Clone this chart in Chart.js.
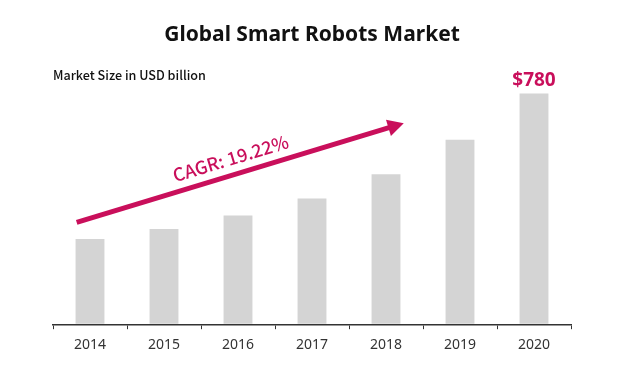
<!DOCTYPE html>
<html>
<head>
<meta charset="utf-8">
<script src="https://cdn.jsdelivr.net/npm/chart.js@4"></script>
<style>
  html, body { margin: 0; padding: 0; background: #fff; }
  #wrap { width: 625px; height: 372px; }
</style>
</head>
<body>
<div id="wrap"><canvas id="chart"></canvas></div>
<script>
// Global Smart Robots Market — bars + CAGR arrow

const YEARS = ["2014", "2015", "2016", "2017", "2018", "2019", "2020"];
const MARKET_SIZE = [287, 321, 367, 424, 506, 623, 780];
const LAST_LABEL = "$780";
const CAGR_TEXT = "CAGR: 19.22%";
// arrow ends in data space: [category index, value]
const ARROW_FROM = [-0.18, 343];
const ARROW_TO = [4.24, 679];
const CAGR_AT = [1.9, 560];

const ACCENT = "#c90f5b";
const FONT = "'Noto Sans', sans-serif";
const FONT_KR = "'Noto Sans CJK KR', 'Noto Sans', sans-serif";

// ============== annotation plugin: arrow, CAGR label, last value ==============
const annotations = {
  id: "annotations",
  afterDatasetsDraw(chart) {
    const { ctx, scales: { x, y } } = chart;
    const x1 = x.getPixelForValue(ARROW_FROM[0]), y1 = y.getPixelForValue(ARROW_FROM[1]);
    const x2 = x.getPixelForValue(ARROW_TO[0]), y2 = y.getPixelForValue(ARROW_TO[1]);
    const ang = Math.atan2(y2 - y1, x2 - x1);
    const headLen = 16, headHalf = 8.5;

    ctx.save();
    ctx.strokeStyle = ACCENT;
    ctx.fillStyle = ACCENT;
    ctx.lineWidth = 5;
    ctx.beginPath();
    ctx.moveTo(x1, y1);
    ctx.lineTo(x2 - headLen * 0.8 * Math.cos(ang), y2 - headLen * 0.8 * Math.sin(ang));
    ctx.stroke();
    // head
    const bx = x2 - headLen * Math.cos(ang), by = y2 - headLen * Math.sin(ang);
    ctx.beginPath();
    ctx.moveTo(x2, y2);
    ctx.lineTo(bx + headHalf * Math.sin(ang), by - headHalf * Math.cos(ang));
    ctx.lineTo(bx - headHalf * Math.sin(ang), by + headHalf * Math.cos(ang));
    ctx.closePath();
    ctx.fill();

    // CAGR text along the arrow
    const tx = x.getPixelForValue(CAGR_AT[0]), ty = y.getPixelForValue(CAGR_AT[1]);
    ctx.translate(tx, ty);
    ctx.rotate(ang);
    ctx.font = "500 18px " + FONT_KR;
    ctx.textAlign = "center";
    ctx.textBaseline = "middle";
    ctx.fillText(CAGR_TEXT, 0, 0);
    ctx.restore();

    // value above last bar
    const meta = chart.getDatasetMeta(0);
    const last = meta.data[meta.data.length - 1];
    ctx.save();
    ctx.fillStyle = ACCENT;
    ctx.font = "bold 19px " + FONT;
    ctx.textAlign = "center";
    ctx.textBaseline = "alphabetic";
    ctx.fillText(LAST_LABEL, last.x, last.y - 7);
    ctx.restore();
  }
};

new Chart(document.getElementById("chart"), {
  type: "bar",
  data: {
    labels: YEARS,
    datasets: [{
      data: MARKET_SIZE,
      backgroundColor: "#d4d4d4",
      borderWidth: 0,
      categoryPercentage: 1,
      barPercentage: 0.39,
    }]
  },
  options: {
    responsive: true,
    maintainAspectRatio: false,
    animation: false,
    layout: { padding: { left: 53, right: 54, top: 0, bottom: 12 } },
    scales: {
      x: {
        grid: {
          display: true,
          drawOnChartArea: false,
          offset: true,
          tickLength: 4,
          color: "#333",
          lineWidth: 1,
        },
        border: { display: true, color: "#333", width: 1.5 },
        ticks: { color: "#333", font: { family: FONT, size: 14 }, padding: 7 },
      },
      y: {
        display: false,
        min: -5,
        max: 816,
      },
    },
    plugins: {
      legend: { display: false },
      tooltip: { enabled: false },
      title: {
        display: true,
        text: "Global Smart Robots Market",
        color: "#111",
        font: { family: FONT, size: 21, weight: "bold" },
        padding: { top: 22, bottom: 10 },
      },
      subtitle: {
        display: true,
        text: "Market Size in USD billion",
        align: "start",
        color: "#111",
        font: { family: FONT_KR, size: 12.6, weight: "500" },
        padding: { top: 10.5, bottom: 0 },
      },
    }
  },
  plugins: [annotations]
});
</script>
</body>
</html>
